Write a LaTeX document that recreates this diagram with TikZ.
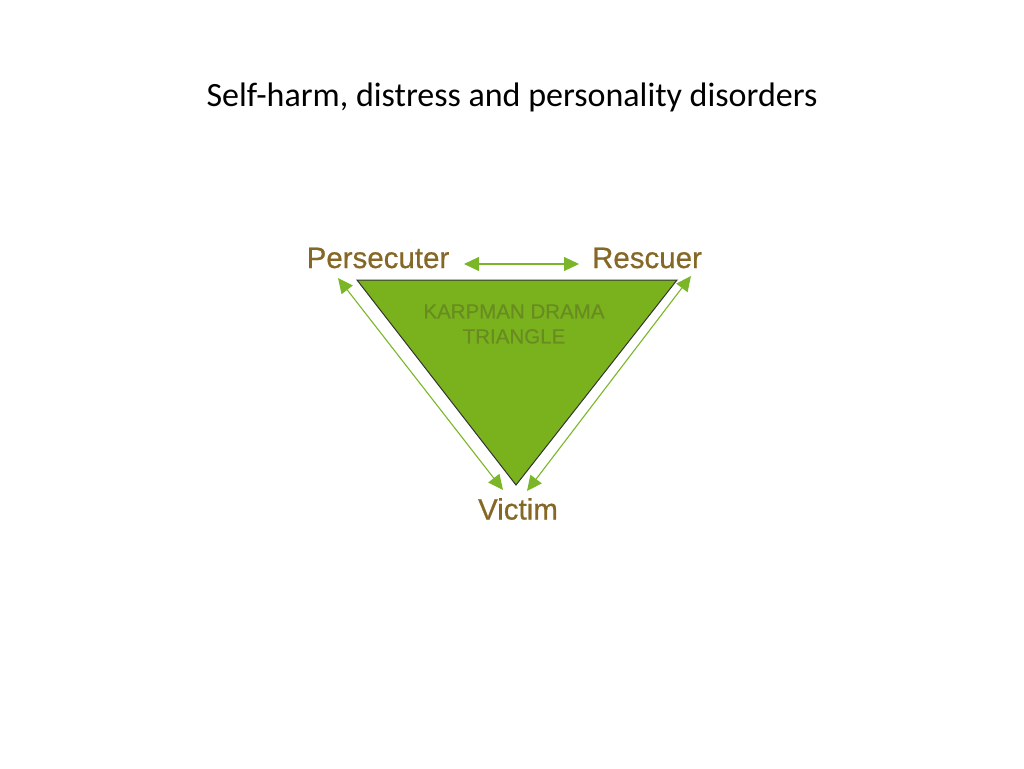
\documentclass[tikz,border=0pt]{standalone}
\usepackage{fontspec}
\setmainfont{Liberation Sans}
\newfontfamily\titlefont{Carlito}
\newfontfamily\labelfont[FakeBold=0.6]{Liberation Sans}
\usetikzlibrary{arrows.meta}
\definecolor{labelbrown}{RGB}{134,104,38}
\definecolor{trigreen}{RGB}{122,178,30}
\definecolor{innergreen}{RGB}{104,140,32}
\definecolor{arrowgreen}{RGB}{122,182,40}
\tikzset{
	rolelabel/.style={text=labelbrown, font=\labelfont\fontsize{29.5}{32}\selectfont, inner sep=0pt},
	swap/.style={arrowgreen, line width=1.1, {Triangle[width=14pt,length=15pt]}-{Triangle[width=14pt,length=15pt]}}
}
\begin{document}
\begin{tikzpicture}[x=1pt, y=-1pt]
		\useasboundingbox (0, 0) rectangle (1024, 768);

		\node [font=\titlefont\fontsize{34}{40}\selectfont, inner sep=0pt] (title) at (512, 97) {Self-harm, distress and personality disorders};

		\coordinate (pc) at (357, 280);
		\coordinate (rc) at (677, 280);
		\coordinate (vc) at (516, 485);
		\filldraw [fill=trigreen, draw=black!80, line width=1] (pc) -- (rc) -- (vc) -- cycle;

		\node [text=innergreen, font=\labelfont\fontsize{20.5}{25}\selectfont, align=center, inner sep=0pt] (karpman) at (514, 324) {KARPMAN DRAMA\\TRIANGLE};

		\node [rolelabel] (pers) at (378, 258) {Persecuter};
		\node [rolelabel] (resc) at (647, 258) {Rescuer};
		\node [rolelabel] (vict) at (518, 509) {Victim};

		\coordinate (pl) at (464, 264);
		\coordinate (rl) at (579, 264);
		\coordinate (pa) at (338, 278);
		\coordinate (va) at (503, 490);
		\coordinate (ra) at (691, 276);
		\coordinate (vb) at (527, 491);

		\draw [swap] (pl) -- (rl);
		\draw [swap] (pa) -- (va);
		\draw [swap] (ra) -- (vb);
	\end{tikzpicture}
\end{document}
